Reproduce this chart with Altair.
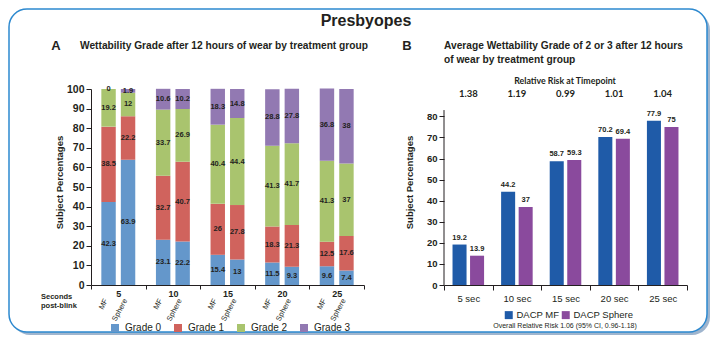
import altair as alt
import pandas as pd

FONT = "Liberation Sans, Arial, sans-serif"
RRFONT = "Lato, Open Sans, sans-serif"
INK = "#231F20"

# ---------------- data: panel A ----------------
seconds = ["5", "10", "15", "20", "25"]
lenses = ["MF", "Sphere"]
grades = ["Grade 0", "Grade 1", "Grade 2", "Grade 3"]
# order: 5 MF, 5 Sphere, 10 MF, 10 Sphere, ...
grade0 = [42.3, 63.9, 23.1, 22.2, 15.4, 13, 11.5, 9.3, 9.6, 7.4]
grade1 = [38.5, 22.2, 32.7, 40.7, 26, 27.8, 18.3, 21.3, 12.5, 17.6]
grade2 = [19.2, 12, 33.7, 26.9, 40.4, 44.4, 41.3, 41.7, 41.3, 37]
grade3 = [0, 1.9, 10.6, 10.2, 18.3, 14.8, 28.8, 27.8, 36.8, 38]
grade_colors = ["#6497CB", "#D0635D", "#A9C46E", "#9279B2"]

# ---------------- data: panel B ----------------
timepoints = ["5 sec", "10 sec", "15 sec", "20 sec", "25 sec"]
series = ["DACP MF", "DACP Sphere"]
dacp_mf = [19.2, 44.2, 58.7, 70.2, 77.9]
dacp_sphere = [13.9, 37, 59.3, 69.4, 75]
relative_risk = ["1.38", "1.19", "0.99", "1.01", "1.04"]
series_colors = ["#1F5BA8", "#8A4A9D"]

rowsA = []
for i, s in enumerate(seconds):
    for j, l in enumerate(lenses):
        k = i * 2 + j
        base = 0.0
        for g, v in zip(grades, [grade0[k], grade1[k], grade2[k], grade3[k]]):
            rowsA.append(dict(sec=s, lens=l, grade=g, value=v, label=f"{v:g}",
                              start=base, end=base + v, mid=base + v / 2))
            base += v
dfA = pd.DataFrame(rowsA)
dfLens = pd.DataFrame([dict(sec=s, lens=l) for s in seconds for l in lenses])

rowsB = []
for t, a, b in zip(timepoints, dacp_mf, dacp_sphere):
    rowsB.append(dict(time=t, series=series[0], value=a, label=f"{a:g}"))
    rowsB.append(dict(time=t, series=series[1], value=b, label=f"{b:g}"))
dfB = pd.DataFrame(rowsB)
dfRR = pd.DataFrame(dict(time=timepoints, rr=relative_risk))
one = pd.DataFrame({"k": [0]})

WA, WB, H = 273, 243, 196

# ---------------- panel A ----------------
xA = alt.X("sec:N", sort=seconds, scale=alt.Scale(paddingInner=0, paddingOuter=0),
           axis=alt.Axis(title=None, labelAngle=0, tickBand="extent", labelFontSize=9,
                         labelFontWeight="bold", tickSize=4, labelPadding=0, zindex=1))
xoA = alt.XOffset("lens:N", sort=lenses, scale=alt.Scale(paddingInner=0.26, paddingOuter=0.53))
yscA = alt.Scale(domain=[0, 100], nice=False)
axA = alt.Axis(title="Subject Percentages", values=list(range(0, 101, 10)), zindex=1,
               labelOverlap=False, labelFlush=False,
               labelFontSize=10.5, labelFontWeight="bold", tickSize=5, labelPadding=2,
               titleFontSize=9.5, titleFontWeight="bold", titleX=-32, titleY=93,
               titleBaseline="middle")

shadow = alt.Chart(one).mark_rect(cornerRadius=18, fill="#5F83AE", opacity=0.6).encode(
    x=alt.value(-79), x2=alt.value(619), y=alt.value(-77), y2=alt.value(246))
frame = alt.Chart(one).mark_rect(cornerRadius=18, fill="white", stroke="#2D89CF", strokeWidth=1.5).encode(
    x=alt.value(-82), x2=alt.value(616), y=alt.value(-80), y2=alt.value(243))

barsA = alt.Chart(dfA).mark_bar().encode(
    x=xA, xOffset=xoA,
    y=alt.Y("start:Q", scale=yscA, axis=axA),
    y2="end:Q",
    color=alt.Color("grade:N", sort=grades, scale=alt.Scale(domain=grades, range=grade_colors),
                    legend=alt.Legend(orient="none", legendX=19, legendY=234, direction="horizontal",
                                      columns=4, title=None, symbolType="square", symbolSize=64,
                                      symbolStrokeWidth=0, labelFontSize=10, labelOffset=5,
                                      columnPadding=11)),
)
labelsA = alt.Chart(dfA).mark_text(fontSize=7.5, fontWeight="bold", color=INK, font=FONT).encode(
    x=xA, xOffset=xoA, y=alt.Y("mid:Q", scale=yscA, axis=axA), text="label:N")
lensA = alt.Chart(dfLens).mark_text(angle=298, align="right", baseline="middle", fontSize=7.5,
                                      color=INK, font=FONT, dx=-5).encode(
    x=xA, xOffset=xoA, y=alt.value(H + 10), text="lens:N")
secText = alt.Chart(one).mark_text(align="left", baseline="middle", fontSize=7.5, fontWeight="bold",
                                     color=INK, font=FONT, lineHeight=9.5).encode(
    x=alt.value(-50), y=alt.value(207.5), text=alt.value(["Seconds", "post-blink"]))
title = alt.Chart(one).mark_text(align="center", baseline="middle", fontSize=16, fontWeight="bold",
                                   color=INK, font=FONT).encode(
    x=alt.value(275), y=alt.value(-68), text=alt.value("Presbyopes"))
letterA = alt.Chart(one).mark_text(align="center", baseline="middle", fontSize=13, fontWeight="bold",
                                     color=INK, font=FONT).encode(
    x=alt.value(-35), y=alt.value(-43), text=alt.value("A"))
subA = alt.Chart(one).mark_text(align="left", baseline="middle", fontSize=10.2, fontWeight="bold",
                                  color=INK, font=FONT).encode(
    x=alt.value(-11), y=alt.value(-43),
    text=alt.value("Wettability Grade after 12 hours of wear by treatment group"))

panelA = alt.layer(shadow, frame, barsA, labelsA, lensA, secText, title, letterA, subA).properties(
    width=WA, height=H)

# ---------------- panel B ----------------
xB = alt.X("time:N", sort=timepoints, scale=alt.Scale(paddingInner=0, paddingOuter=0),
           axis=alt.Axis(title=None, labelAngle=0, tickBand="extent", labelFontSize=9.5,
                         tickSize=5, labelPadding=3))
xoB = alt.XOffset("series:N", sort=series, scale=alt.Scale(paddingInner=0.2, paddingOuter=0.486))
yscB = alt.Scale(domain=[0, 93], nice=False)
axB = alt.Axis(title="Subject Percentages", values=list(range(0, 81, 10)), domain=False,
               labelOverlap=False, labelFlush=False,
               labelFontSize=9.5, labelFontWeight="bold", tickSize=5, labelPadding=2,
               titleFontSize=9.5, titleFontWeight="bold", titleX=-35, titleY=93,
               titleBaseline="middle")

barsB = alt.Chart(dfB).mark_bar().encode(
    x=xB, xOffset=xoB,
    y=alt.Y("value:Q", scale=yscB, axis=axB),
    color=alt.Color("series:N", sort=series, scale=alt.Scale(domain=series, range=series_colors),
                    legend=alt.Legend(orient="none", legendX=60, legendY=221, direction="horizontal",
                                      columns=2, title=None, symbolType="square", symbolSize=64,
                                      symbolStrokeWidth=0, labelFontSize=9.5, labelOffset=3,
                                      columnPadding=1)),
)
axisLineB = alt.Chart(one).mark_rule(color=INK, strokeWidth=1).encode(
    x=alt.value(0), y=alt.YDatum(0, scale=yscB, axis=axB), y2=alt.datum(83))
labelsB = alt.Chart(dfB).mark_text(baseline="bottom", dy=-3, fontSize=7.5, fontWeight="bold",
                                     color=INK, font=FONT).encode(
    x=xB, xOffset=xoB, y=alt.Y("value:Q", scale=yscB, axis=axB), text="label:N")
rrVals = alt.Chart(dfRR).mark_text(baseline="middle", fontSize=9.5, fontWeight="bold", color=INK,
                                     font=RRFONT).encode(
    x=xB, y=alt.value(5), text="rr:N")
rrHead = alt.Chart(one).mark_text(baseline="middle", fontSize=8.8, fontWeight="bold", color=INK,
                                    font=RRFONT).encode(
    x=alt.value(121), y=alt.value(-8), text=alt.value("Relative Risk at Timepoint"))
letterB = alt.Chart(one).mark_text(align="center", baseline="middle", fontSize=13, fontWeight="bold",
                                     color=INK, font=FONT).encode(
    x=alt.value(-37), y=alt.value(-43), text=alt.value("B"))
subB1 = alt.Chart(one).mark_text(align="left", baseline="middle", fontSize=10.2, fontWeight="bold",
                                   color=INK, font=FONT).encode(
    x=alt.value(0), y=alt.value(-43),
    text=alt.value("Average Wettability Grade of 2 or 3 after 12 hours"))
subB2 = alt.Chart(one).mark_text(align="left", baseline="middle", fontSize=10.2, fontWeight="bold",
                                   color=INK, font=FONT).encode(
    x=alt.value(0), y=alt.value(-29), text=alt.value("of wear by treatment group"))
foot = alt.Chart(one).mark_text(align="center", baseline="middle", fontSize=7, color=INK,
                                  font=FONT).encode(
    x=alt.value(121), y=alt.value(237),
    text=alt.value("Overall Relative Risk 1.06 (95% CI, 0.96-1.18)"))

panelB = alt.layer(barsB, axisLineB, labelsB, rrVals, rrHead, letterB, subB1, subB2, foot).properties(
    width=WB, height=H)

chart = alt.hconcat(panelA, panelB, spacing=80, bounds="flush", padding=0).resolve_scale(
    x="independent", y="independent", color="independent", xOffset="independent"
).configure(font=FONT).configure_view(stroke=None).configure_axis(
    grid=False, labelColor=INK, titleColor=INK, domainColor=INK, tickColor=INK,
    labelFont=FONT, titleFont=FONT
).configure_legend(labelFont=FONT, labelColor=INK)

chart.save("out.html", embed_options={"renderer": "svg", "actions": False})
